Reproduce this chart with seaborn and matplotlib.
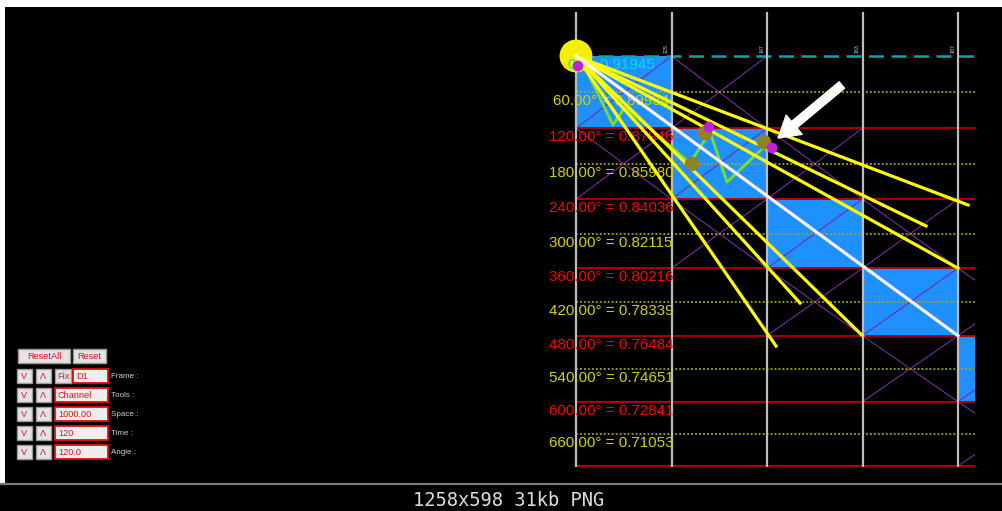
import matplotlib
matplotlib.use("Agg")
import matplotlib.pyplot as plt
from matplotlib.patches import Rectangle
import pandas as pd
import seaborn as sns

# ---- data ----
LEVEL_DEGREES = [0, 60, 120, 180, 240, 300, 360, 420, 480, 540, 600, 660, 720]
LEVEL_PRICES = [0.91945, 0.89934, 0.87946, 0.85980, 0.84036, 0.82115, 0.80216,
                0.78339, 0.76484, 0.74651, 0.72841, 0.71053, 0.69287]
TIME_LINES = [0, 120, 240, 360, 480]
TIME_TAGS = ["", "125", "147", "163", "187"]

FAN_END_TIME = [492.6, 439.8, 480.0, 281.5, 360.0, 251.3]
FAN_END_PRICE = [0.83710, 0.82549, 0.80216, 0.78293, 0.76484, 0.75917]
DIAG_END_TIME = 480.0
DIAG_END_PRICE = 0.76484

SWING_TIME = [5.0, 46.5, 61.6, 143.2, 168.4, 189.7, 235.0]
SWING_PRICE = [0.9189, 0.8813, 0.8913, 0.8603, 0.8774, 0.8498, 0.8686]
PIVOT_TIME = [145.8, 162.1, 236.2]
PIVOT_PRICE = [0.8598, 0.8769, 0.8719]
MARK_TIME = [167.1, 246.3, 2.5]
MARK_PRICE = [0.8802, 0.8686, 0.9139]

ARROW_TAIL = (334.0, 0.9034)
ARROW_HEAD = (254.0, 0.8741)

PANEL_FIELDS = ["Frame :", "Tools :", "Space :", "Time :", "Angle :"]
PANEL_VALUES = ["D1", "Channel", "1000.00", "120", "120.0"]
CAPTION = "1258x598 31kb PNG"

# ---- layout (pixels of the 1002x511 canvas) ----
W, H = 1002, 511
X0_PX, Y0_PX = 576, 56            # pixel of time 0 / first level
PX_PER_T = 382 / 480
PX_PER_P = 378 / (LEVEL_PRICES[0] - LEVEL_PRICES[11])
T_END = (975 - X0_PX) / PX_PER_T
P_TOP = LEVEL_PRICES[0] + (Y0_PX - 12) / PX_PER_P
P_BOT = LEVEL_PRICES[-1] - 1 / PX_PER_P

plt.rcParams["font.family"] = ["Liberation Sans", "DejaVu Sans"]
fig = plt.figure(figsize=(W / 100, H / 100), dpi=100, facecolor="black")

# screen chrome axes in pixel coordinates
ui = fig.add_axes([0, 0, 1, 1])
ui.set_xlim(0, W)
ui.set_ylim(H, 0)
ui.axis("off")
ui.add_patch(Rectangle((0, 0), W, H, facecolor="black", edgecolor="none"))
ui.add_patch(Rectangle((0, 0), W, 7, facecolor="white", edgecolor="none"))
ui.add_patch(Rectangle((0, 0), 5, 484, facecolor="white", edgecolor="none"))
ui.plot([0, W], [484, 484], color="#7a7a7a", lw=1.6)
ui.text(509, 500, CAPTION, family="DejaVu Sans Mono", fontsize=13.5,
        color="#dcdcdc", ha="center", va="center")


def button(x, y, w, h, label):
    ui.add_patch(Rectangle((x, y), w, h, facecolor="#e4e4e4", edgecolor="#9c9c9c", lw=1))
    ui.text(x + w / 2, y + h / 2 + 0.5, label, color="#e8101a", fontsize=6.6,
            ha="center", va="center")


def field(x, y, w, h, label):
    ui.add_patch(Rectangle((x, y), w, h, facecolor="#eeeeee", edgecolor="#e01010", lw=1.3))
    ui.text(x + 3, y + h / 2 + 0.5, label, color="#e8101a", fontsize=6.6,
            ha="left", va="center")


button(18, 349, 52, 14, "ResetAll")
button(73, 349, 33, 14, "Reset")
row_y = [369, 388, 407, 426, 445]
for i, (name, value) in enumerate(zip(PANEL_FIELDS, PANEL_VALUES)):
    y = row_y[i]
    button(17, y, 15, 14, "V")
    button(36, y, 15, 14, "\u039b")
    if i == 0:
        button(55, y, 16, 14, "Fix")
        field(73, y, 35, 14, value)
    else:
        field(55, y, 53, 14, value)
    ui.text(111, y + 7.5, name, color="#d0d0d0", fontsize=5.8, ha="left", va="center")

# chart axes: time on x, price on y
left_px, right_px, top_px, bot_px = 520, W, 8, 482
ax = fig.add_axes([left_px / W, 1 - bot_px / H, (right_px - left_px) / W, (bot_px - top_px) / H])
ax.set_xlim((left_px - X0_PX) / PX_PER_T, (right_px - X0_PX) / PX_PER_T)
ax.set_ylim(LEVEL_PRICES[0] - (bot_px - Y0_PX) / PX_PER_P, LEVEL_PRICES[0] + (Y0_PX - top_px) / PX_PER_P)
ax.axis("off")
ax.patch.set_alpha(0)

clip = Rectangle((0, P_BOT), T_END, P_TOP - P_BOT, transform=ax.transData,
                 facecolor="none", edgecolor="none")
ax.add_patch(clip)

# blue squares along the 1x1 diagonal
box_left = TIME_LINES
box_top = [LEVEL_PRICES[2 * i] for i in range(len(TIME_LINES))]
box_bot = [LEVEL_PRICES[2 * i + 2] for i in range(len(TIME_LINES))]
bars = ax.bar(box_left, [b - t for t, b in zip(box_top, box_bot)], bottom=box_top,
              width=120, align="edge", color="#1e90ff", edgecolor="none", zorder=1)
for b in bars:
    b.set_clip_path(clip)

# purple lattice: anti-diagonal inside each square, X in the neighbouring cells
cols = len(TIME_LINES)
rows = (len(LEVEL_PRICES) - 1) // 2
for c in range(cols):
    t0, t1 = c * 120, c * 120 + 120
    for r in range(rows):
        p0, p1 = LEVEL_PRICES[2 * r], LEVEL_PRICES[2 * r + 2]
        segs = []
        if c == r:
            segs = [((t0, t1), (p1, p0))]
        elif abs(c - r) == 1:
            segs = [((t0, t1), (p0, p1)), ((t0, t1), (p1, p0))]
        for xs, ys in segs:
            ln, = ax.plot(xs, ys, color="#7a2a9e", lw=0.8, zorder=2)
            ln.set_clip_path(clip)

# price levels
for deg, price in zip(LEVEL_DEGREES, LEVEL_PRICES):
    if deg == 0:
        ax.hlines(price, 0, T_END, color="#00a8a8", lw=1.8, linestyles=(0, (6, 3)), zorder=3)
    elif deg % 120 == 0:
        ax.hlines(price, 0, T_END, color="#b80000", lw=1.3, zorder=3)
    else:
        ax.hlines(price, 0, T_END, color="#a8a800", lw=1.3, linestyles=(0, (1, 1.2)), zorder=3)

ax.vlines(TIME_LINES, P_BOT, P_TOP, color="#bdbdbd", lw=1.6, zorder=3)
for t, tag in zip(TIME_LINES, TIME_TAGS):
    ax.annotate(tag, xy=(t, LEVEL_PRICES[0]), xytext=(-5, 3), textcoords="offset pixels",
                rotation=90, fontsize=3.8, color="#d0d0d0", ha="center", va="bottom", zorder=4)

# sun at the origin
ax.scatter([0], [LEVEL_PRICES[0]], s=560, color="#f5ef00", edgecolors="none", zorder=3.5)

# degree labels
for deg, price in zip(LEVEL_DEGREES[:-1], LEVEL_PRICES[:-1]):
    if deg == 0:
        txt, col = f"0\u00b0 = {price:.5f}", "#00dcff"
    else:
        txt = f"{deg:.2f}\u00b0 = {price:.5f}"
        col = "#ff0000" if deg % 120 == 0 else "#d2d200"
    ax.annotate(txt, xy=(44, price), xytext=(0, -9), textcoords="offset pixels",
                ha="center", va="center", fontsize=10.9, color=col, zorder=4)

# green swing path
swing = pd.DataFrame({"t": SWING_TIME, "p": SWING_PRICE})
sns.lineplot(data=swing, x="t", y="p", sort=False, color="#77e02a", lw=2, ax=ax, zorder=5)

# fan lines from the origin
fan_rows = []
for i, (te, pe) in enumerate(zip(FAN_END_TIME, FAN_END_PRICE)):
    fan_rows += [{"line": i, "t": 0, "p": LEVEL_PRICES[0]}, {"line": i, "t": te, "p": pe}]
fan = pd.DataFrame(fan_rows)
sns.lineplot(data=fan, x="t", y="p", units="line", estimator=None, sort=False,
             color="#ffff00", lw=2.3, ax=ax, zorder=6)
ax.plot([0, DIAG_END_TIME], [LEVEL_PRICES[0], DIAG_END_PRICE], color="#fff0fa", lw=2.3, zorder=6)

# swing markers
sns.scatterplot(x=PIVOT_TIME, y=PIVOT_PRICE, s=110, color="#8c8228", edgecolor="none",
                ax=ax, zorder=7)
sns.scatterplot(x=MARK_TIME, y=MARK_PRICE, s=60, color="#c21ee0", edgecolor="none",
                ax=ax, zorder=7)

ax.annotate("", xy=ARROW_HEAD, xytext=ARROW_TAIL,
            arrowprops=dict(facecolor="white", edgecolor="white", width=6,
                            headwidth=18, headlength=15, shrink=0),
            zorder=9)

ax.set_xlabel("")
ax.set_ylabel("")
fig.savefig("out.png", dpi=100, facecolor="black")
